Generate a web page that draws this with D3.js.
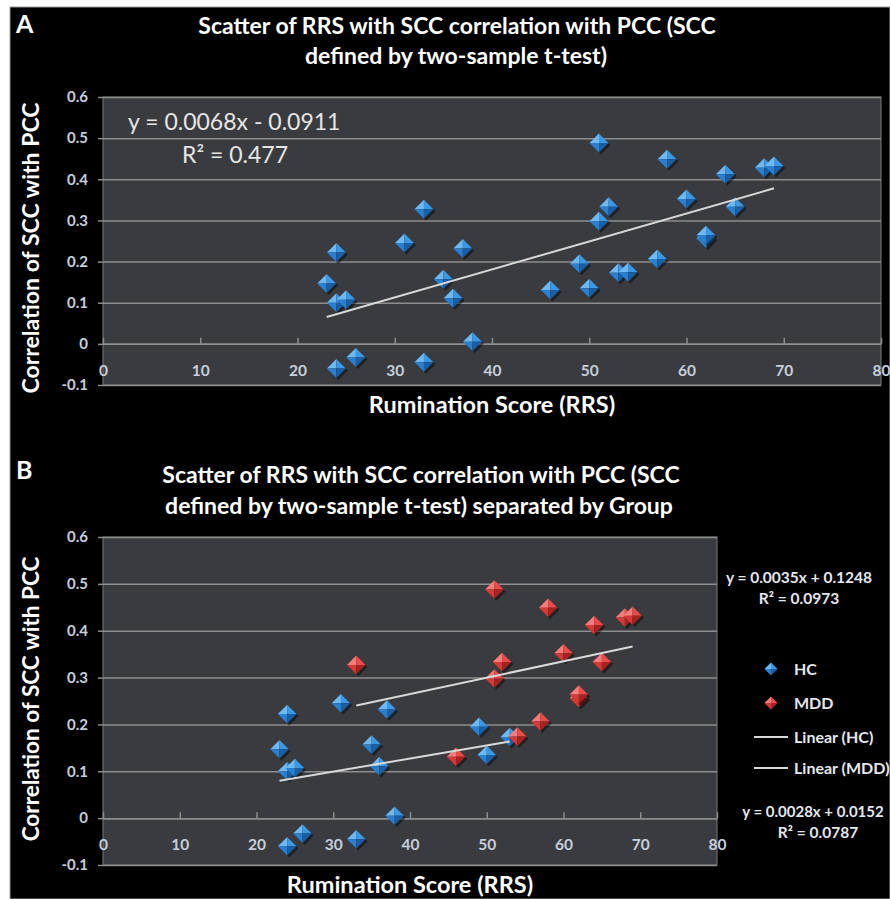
<!DOCTYPE html>
<html>
<head>
<meta charset="utf-8">
<script src="https://cdn.jsdelivr.net/npm/d3@7"></script>
<style>
  body { margin: 0; background: #fff; }
  svg { display: block; }
  text { font-family: Lato, "Open Sans", sans-serif; }
</style>
</head>
<body>
<svg id="chart" width="890" height="899"></svg>
<script>
// data
const hcX  = [23, 24, 24, 25, 24, 26, 31, 33, 35, 36, 37, 38, 49, 50, 53];
const hcY  = [0.147, 0.222, 0.100, 0.107, -0.060, -0.033, 0.245, -0.045, 0.157, 0.111, 0.232, 0.005, 0.195, 0.135, 0.173];
const mddX = [33, 46, 51, 51, 52, 54, 57, 58, 60, 62, 62, 64, 65, 68, 69];
const mddY = [0.327, 0.131, 0.488, 0.298, 0.333, 0.174, 0.206, 0.449, 0.352, 0.256, 0.264, 0.412, 0.333, 0.428, 0.432];

// trendline coefficients [slope, intercept] as printed on the chart
const fitAll = [0.0068, -0.0911];
const fitHC  = [0.0028, 0.0152];
const fitMDD = [0.0035, 0.1248];

const xTicks = [0, 10, 20, 30, 40, 50, 60, 70, 80];
const yTicks = [-0.1, 0, 0.1, 0.2, 0.3, 0.4, 0.5, 0.6];

const blue = ["#6cb9f3", "#3d98e4", "#2a80d0", "#1a5ea6"];
const red  = ["#f57c7a", "#ea4c4a", "#d63a38", "#a82222"];

const svg = d3.select("#chart");

// black backdrop
svg.append("rect")
    .attr("x", 10).attr("y", 7)
    .attr("width", 880).attr("height", 892)
    .attr("fill", "#000")
    .attr("stroke", "#9a9a9a")
    .attr("stroke-width", 1);

function drawPanel(cfg) {
    const x = d3.scaleLinear().domain([0, 80]).range([cfg.left, cfg.right]);
    const y = d3.scaleLinear().domain([-0.1, 0.6]).range([cfg.bottom, cfg.top]);
    const g = svg.append("g");

    g.append("rect")
        .attr("x", cfg.left).attr("y", cfg.top)
        .attr("width", cfg.right - cfg.left)
        .attr("height", cfg.bottom - cfg.top)
        .attr("fill", "#3a3b3e")
        .attr("stroke", "#7a7a7a")
        .attr("stroke-width", 1);

    // horizontal gridlines
    const grid = g.append("g")
        .attr("transform", `translate(${cfg.left},0)`)
        .call(d3.axisLeft(y).tickValues(yTicks).tickSize(-(cfg.right - cfg.left)).tickFormat(""));
    grid.select(".domain").remove();
    grid.selectAll("line").attr("stroke", "#8e8e8e").attr("stroke-width", 1.5);

    // y ticks + labels
    const ya = g.append("g")
        .attr("transform", `translate(${cfg.left},0)`)
        .call(d3.axisLeft(y).tickValues(yTicks).tickSizeInner(5).tickSizeOuter(0).tickPadding(10)
            .tickFormat(d => String(+d.toFixed(1))));
    ya.select(".domain").remove();
    ya.selectAll("line").attr("stroke", "#8e8e8e").attr("stroke-width", 1.5);
    ya.selectAll("text")
        .attr("fill", "#c6cfdb")
        .attr("font-size", 15)
        .attr("font-weight", "bold")
        .attr("font-family", "Lato, sans-serif");

    // x axis sits on y = 0, labels near bottom of plot
    const xa = g.append("g")
        .attr("transform", `translate(0,${y(0)})`)
        .call(d3.axisBottom(x).tickValues(xTicks).tickSizeInner(-6).tickSizeOuter(0).tickPadding(cfg.xPad));
    xa.select(".domain").attr("stroke", "#8e8e8e").attr("stroke-width", 1.5);
    xa.selectAll("line").attr("stroke", "#8e8e8e").attr("stroke-width", 1.5);
    xa.selectAll("text")
        .attr("fill", "#c6cfdb")
        .attr("font-size", 15.5)
        .attr("font-weight", "bold")
        .attr("font-family", "Lato, sans-serif");

    return { x, y, g };
}

function diamonds(p, xs, ys, pal, r) {
    const pts = xs.map((v, i) => ({ x: v, y: ys[i] }));
    const m = p.g.append("g").selectAll("g")
        .data(pts)
        .join("g")
        .attr("transform", d => `translate(${p.x(d.x)},${p.y(d.y)})`);
    m.append("path")
        .attr("d", `M2,${2 - r}L${r + 2},2L2,${r + 2}L${2 - r},2Z`)
        .attr("fill", "#000").attr("opacity", 0.45);
    m.append("path").attr("d", `M0,0L${-r},0L0,${-r}Z`).attr("fill", pal[0]);
    m.append("path").attr("d", `M0,0L0,${-r}L${r},0Z`).attr("fill", pal[1]);
    m.append("path").attr("d", `M0,0L0,${r}L${-r},0Z`).attr("fill", pal[2]);
    m.append("path").attr("d", `M0,0L${r},0L0,${r}Z`).attr("fill", pal[3]);
}

function trend(p, xs, fit) {
    const ext = d3.extent(xs);
    p.g.append("line")
        .attr("x1", p.x(ext[0])).attr("y1", p.y(fit[0] * ext[0] + fit[1]))
        .attr("x2", p.x(ext[1])).attr("y2", p.y(fit[0] * ext[1] + fit[1]))
        .attr("stroke", "#d8d8d8")
        .attr("stroke-width", 2);
}

function label(txt, x, y, size, opts = {}) {
    const t = svg.append("text")
        .attr("x", x).attr("y", y)
        .attr("font-size", size)
        .attr("font-weight", opts.weight || "bold")
        .attr("fill", opts.fill || "#fff")
        .attr("text-anchor", opts.anchor || "middle")
        .text(txt);
    if (opts.family) t.attr("font-family", opts.family);
    if (opts.rotate) t.attr("transform", `rotate(-90,${x},${y})`);
    return t;
}

// ---------- panel A ----------
const pa = drawPanel({ left: 103, right: 881, top: 97, bottom: 385, xPad: 21 });
const allX = hcX.concat(mddX);
const allY = hcY.concat(mddY);
diamonds(pa, allX, allY, blue, 9.5);
trend(pa, allX, fitAll);

label("A", 16, 33, 25, { anchor: "start", family: "Liberation Sans, Arial, sans-serif" });
label("Scatter of RRS with SCC correlation with PCC (SCC", 457, 34, 23);
label("defined by two-sample t-test)", 456, 64, 23);
label("Rumination Score (RRS)", 492, 413, 23.5);
label("Correlation of  SCC with PCC", 39, 248, 23, { rotate: true });
label("y = 0.0068x - 0.0911", 128, 130, 23, { anchor: "start", weight: "normal", fill: "#e6e6e6" });
label("R² = 0.477", 182, 163, 23, { anchor: "start", weight: "normal", fill: "#e6e6e6" });

// ---------- panel B ----------
const pb = drawPanel({ left: 103, right: 717, top: 537, bottom: 865, xPad: 21 });
diamonds(pb, hcX, hcY, blue, 9.3);
diamonds(pb, mddX, mddY, red, 9.3);
trend(pb, hcX, fitHC);
trend(pb, mddX, fitMDD);

label("B", 16, 479, 25, { anchor: "start", family: "Liberation Sans, Arial, sans-serif" });
label("Scatter of RRS with SCC correlation with PCC (SCC", 421, 483, 23);
label("defined by two-sample t-test) separated by Group", 419, 514, 23);
label("Rumination Score (RRS)", 410, 893, 23.5);
label("Correlation of SCC with PCC", 39, 699, 22.5, { rotate: true });

label("y = 0.0035x + 0.1248", 799, 583, 15.5, { fill: "#e4e8ee" });
label("R² = 0.0973", 799, 604, 15.5, { fill: "#e4e8ee" });
label("y = 0.0028x + 0.0152", 813, 817, 15, { fill: "#e4e8ee" });
label("R² = 0.0787", 818, 838, 15.5, { fill: "#e4e8ee" });

// legend
const legend = [
    { name: "HC", kind: "pt", pal: blue, cy: 669 },
    { name: "MDD", kind: "pt", pal: red, cy: 703 },
    { name: "Linear (HC)", kind: "ln", cy: 737 },
    { name: "Linear (MDD)", kind: "ln", cy: 768 }
];
const lg = svg.append("g").selectAll("g").data(legend).join("g")
    .attr("transform", d => `translate(0,${d.cy})`);
lg.filter(d => d.kind === "ln").append("line")
    .attr("x1", 754).attr("x2", 788)
    .attr("stroke", "#d8d8d8").attr("stroke-width", 2);
lg.filter(d => d.kind === "pt").each(function (d) {
    const s = d3.select(this).append("g").attr("transform", "translate(771,0)");
    const r = 6.5;
    s.append("path").attr("d", `M0,0L${-r},0L0,${-r}Z`).attr("fill", d.pal[0]);
    s.append("path").attr("d", `M0,0L0,${-r}L${r},0Z`).attr("fill", d.pal[1]);
    s.append("path").attr("d", `M0,0L0,${r}L${-r},0Z`).attr("fill", d.pal[2]);
    s.append("path").attr("d", `M0,0L${r},0L0,${r}Z`).attr("fill", d.pal[3]);
});
lg.append("text")
    .attr("x", 794).attr("dy", "0.35em")
    .attr("font-size", 16).attr("font-weight", "bold")
    .attr("fill", "#e4e8ee")
    .text(d => d.name);
</script>
</body>
</html>
